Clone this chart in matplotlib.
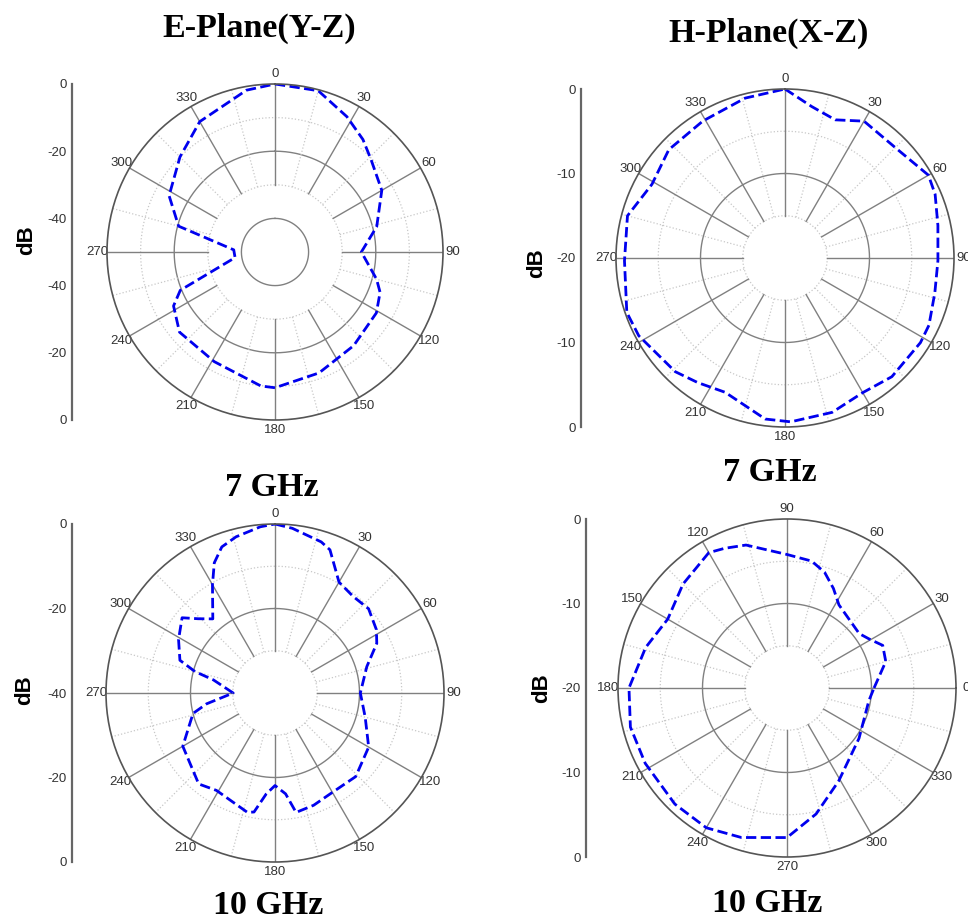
import numpy as np
import matplotlib
matplotlib.use("Agg")
import matplotlib.pyplot as plt

W, H = 968, 924

# E-plane 7 GHz (degrees, dB)
e7_ang = [0, 15, 28, 38, 46, 60, 76, 90, 105, 111, 121, 140, 160, 180, 186, 209, 230,
          242, 248, 262, 273, 285, 298, 315, 330, 350, 360]
e7_db = [0, -0.3, -4.4, -7.5, -10.3, -13.3, -18.8, -24.3, -18.7, -16.5, -14.8, -13.6, -11.7,
         -9.6, -9.9, -12.7, -12.9, -15.8, -19.6, -38, -37.7, -20.3, -14.3, -10, -5.2, -1.1, 0]

# H-plane 7 GHz
h7_ang = [0, 10, 20, 30, 46, 60, 67, 78, 91, 103, 115, 122, 138, 150, 163, 178, 187, 204,
          215, 224, 242, 251, 269, 285, 299, 313, 329, 346, 360]
h7_db = [0, -1.8, -2.6, -1.3, -1.5, -0.4, -0.7, -1.5, -1.9, -1.8, -1.2, -1.1, -1.1, -1.6,
         -0.9, -0.6, -0.8, -2.6, -2.0, -1.3, -0.4, -0.2, -1.0, -0.7, -2.0, -1.2, -1.1, -0.5, 0]

# E-plane 10 GHz
e10_ang = [0, 6, 17, 21, 30, 39, 48, 58, 64, 74, 90, 105, 120, 136, 151, 161, 170, 174, 180,
           185, 190, 193, 211, 220, 240, 256, 261, 270, 282, 285, 289, 299, 309, 314, 320,
           330, 335, 340, 346, 355, 360]
e10_db = [0, -0.8, -2.6, -3.7, -9.7, -10.6, -10.2, -11.7, -13.2, -17.4, -19.8, -17.9, -14.4,
          -12.5, -12.8, -11.9, -11.3, -16.0, -18.1, -16.0, -11.4, -11.0, -13.1, -11.9, -14.8,
          -20.0, -23.6, -30.1, -25.1, -20.4, -16.2, -13.9, -11.7, -14.7, -17.1, -10.4, -6.0,
          -3.2, -1.9, -0.5, 0]

# H-plane 10 GHz (0 at east, counter-clockwise)
h10_ang = [0, 15, 24, 31, 37, 58, 65, 72, 79, 90, 106, 114, 120, 135, 150, 164, 180, 194,
           208, 226, 240, 253, 270, 283, 299, 325, 351, 360]
h10_db = [-9.7, -7.9, -7.6, -8.7, -9.3, -8.4, -7.0, -5.6, -4.7, -4.2, -2.4, -1.9, -1.5, -2.6,
          -3.7, -2.6, -1.3, -0.9, -1.0, -0.9, -0.9, -1.5, -2.3, -4.7, -7.4, -9.6, -10.2, -9.7]

angle_labels = [str(a) for a in range(0, 360, 30)]


def panel(fig, cx, cy, R, ang, db, rmin, solid_r, dotted_r, r_in, scale_ticks,
          line_x, lab_xy, north=True):
    rect = [(cx - R) / W, 1 - (cy + R) / H, 2 * R / W, 2 * R / H]
    ax = fig.add_axes(rect, projection="polar")
    if north:
        ax.set_theta_zero_location("N")
        ax.set_theta_direction(-1)
    ax.set_ylim(rmin, 0)
    ax.set_thetagrids(range(0, 360, 30), labels=angle_labels)
    ax.grid(False)
    ax.set_yticks([])
    ax.tick_params(axis="x", length=0, pad=0, labelsize=9.5, labelcolor="#333333")
    for lab in ax.get_xticklabels():
        lab.set_family("Liberation Sans")
    ax.spines["polar"].set_color("#555555")
    ax.spines["polar"].set_linewidth(1.2)

    th = np.linspace(0, 2 * np.pi, 361)
    for r in solid_r:
        ax.plot(th, np.full_like(th, r), color="#808080", lw=1.0)
    for r in dotted_r:
        ax.plot(th, np.full_like(th, r), color="#c8c8c8", lw=0.9, ls=":")
    for a in range(0, 360, 30):
        t = np.deg2rad(a)
        ax.plot([t, t], [r_in, 0], color="#808080", lw=1.0)
        t2 = np.deg2rad(a + 15)
        ax.plot([t2, t2], [r_in, 0], color="#c8c8c8", lw=0.9, ls=":")

    ax.plot(np.deg2rad(ang), db, color="#0000ee", lw=2, ls="--")
    ax.set_ylim(rmin, 0)

    # linear dB scale on the left, mirrored about the centre
    span = -rmin
    lin = fig.add_axes([line_x / W, rect[1], 0.001, rect[3]])
    lin.set_ylim(-span, span)
    pos, labs = [], []
    for v in scale_ticks:
        for p in sorted({v - rmin, -(v - rmin)}):
            pos.append(p)
            labs.append(str(v))
    lin.set_yticks(pos)
    lin.set_yticklabels(labs)
    lin.set_xticks([])
    for s in ["top", "right", "bottom"]:
        lin.spines[s].set_visible(False)
    lin.spines["left"].set_color("#666666")
    lin.spines["left"].set_linewidth(1.6)
    lin.tick_params(axis="y", length=0, pad=4, labelsize=9.5, labelcolor="#333333")
    for lab in lin.get_yticklabels():
        lab.set_family("Liberation Sans")
    lin.patch.set_visible(False)

    fig.text(lab_xy[0] / W, 1 - lab_xy[1] / H, "dB", rotation=90, ha="center", va="center",
             fontsize=16, fontweight="bold", family="Liberation Sans")
    return ax


fig = plt.figure(figsize=(W / 100, H / 100), dpi=100)

panel(fig, 275, 252, 168, e7_ang, e7_db, -50, [-40, -20], [-30, -10], -30,
      [0, -20, -40], 72, (27, 240))
panel(fig, 785, 258, 169, h7_ang, h7_db, -20, [-10], [-15, -5], -15,
      [0, -10, -20], 581, (537, 263))
panel(fig, 275, 693, 169, e10_ang, e10_db, -40, [-20], [-30, -10], -30,
      [0, -20, -40], 72, (25, 690))
panel(fig, 787, 688, 169, h10_ang, h10_db, -20, [-10], [-15, -5], -15,
      [0, -10, -20], 586, (542, 688), north=False)

serif = dict(family="Liberation Serif", fontweight="bold", fontsize=24.5, ha="center", va="center")
fig.text(259 / W, 1 - 28 / H, "E-Plane(Y-Z)", **serif)
fig.text(769 / W, 1 - 33 / H, "H-Plane(X-Z)", **serif)
fig.text(272 / W, 1 - 488 / H, "7 GHz", **serif)
fig.text(770 / W, 1 - 473 / H, "7 GHz", **serif)
fig.text(268 / W, 1 - 905 / H, "10 GHz", **serif)
fig.text(767 / W, 1 - 903 / H, "10 GHz", **serif)

fig.savefig("out.png", dpi=100)
